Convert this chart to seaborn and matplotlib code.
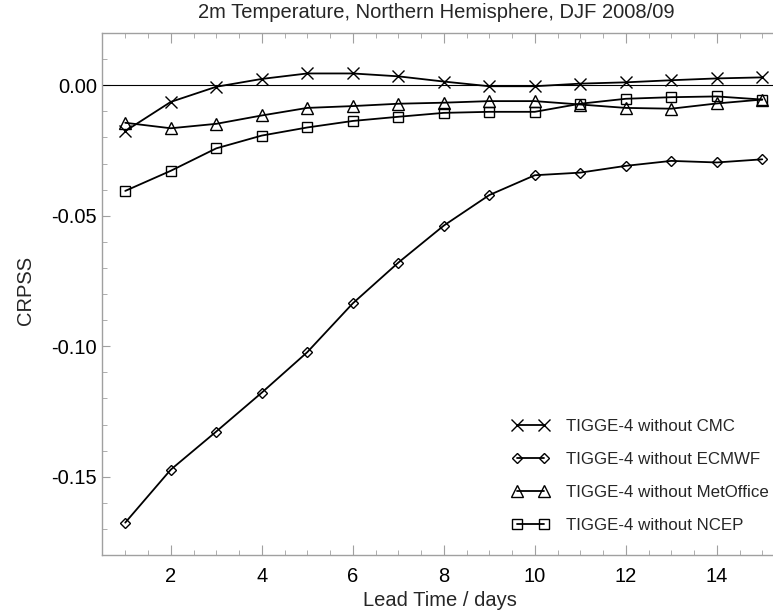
import matplotlib
matplotlib.use("Agg")
import matplotlib.pyplot as plt
from matplotlib.ticker import MultipleLocator, FormatStrFormatter
import seaborn as sns
import pandas as pd

lead_days = list(range(1, 16))
cmc = [-0.0176, -0.0064, -0.0006, 0.0024, 0.0045, 0.0045, 0.0034, 0.0014,
       -0.0004, -0.0004, 0.0006, 0.0011, 0.0019, 0.0026, 0.0030]
ecmwf = [-0.1676, -0.1473, -0.1327, -0.1178, -0.1023, -0.0836, -0.0680, -0.0538,
         -0.0421, -0.0345, -0.0335, -0.0309, -0.0290, -0.0296, -0.0284]
metoffice = [-0.0144, -0.0165, -0.0148, -0.0116, -0.0087, -0.0080, -0.0071, -0.0067,
             -0.0061, -0.0061, -0.0074, -0.0087, -0.0090, -0.0070, -0.0055]
ncep = [-0.0405, -0.0328, -0.0242, -0.0193, -0.0162, -0.0137, -0.0121, -0.0106,
        -0.0102, -0.0102, -0.0071, -0.0052, -0.0046, -0.0043, -0.0055]
series_names = ["TIGGE-4 without CMC", "TIGGE-4 without ECMWF",
                "TIGGE-4 without MetOffice", "TIGGE-4 without NCEP"]
title = "2m Temperature, Northern Hemisphere, DJF 2008/09"
xlabel = "Lead Time / days"
ylabel = "CRPSS"

sns.set_style("ticks")
plt.rcParams["font.family"] = ["Liberation Sans", "DejaVu Sans"]
plt.rcParams["axes.unicode_minus"] = False

fig = plt.figure(figsize=(7.73, 6.15), dpi=100)
ax = fig.add_axes([102.5 / 773, (615 - 555) / 615, 1 - 102.5 / 773, (555 - 33) / 615])

ax.axhline(0.0, color="black", lw=0.8, zorder=1)

markers = ["x", "D", "^", "s"]
msizes = [9, 5.5, 8, 7.5]
for name, vals, m, ms in zip(series_names, [cmc, ecmwf, metoffice, ncep], markers, msizes):
    df = pd.DataFrame({"day": lead_days, "val": vals})
    sns.lineplot(data=df, x="day", y="val", ax=ax, color="black", lw=1.3,
                 marker=m, markersize=ms, markerfacecolor="none",
                 markeredgecolor="black", markeredgewidth=1.0, label=name)

ax.set_xlim(0.5, 0.5 + (773 - 102.5) / 45.5)
ax.set_ylim(-0.18, 0.02)
ax.xaxis.set_major_locator(MultipleLocator(2))
ax.xaxis.set_minor_locator(MultipleLocator(0.5))
ax.yaxis.set_major_locator(MultipleLocator(0.05))
ax.yaxis.set_minor_locator(MultipleLocator(0.01))
ax.yaxis.set_major_formatter(FormatStrFormatter("%.2f"))

spine_col = "#a0a0a0"
for s in ["left", "top", "bottom"]:
    ax.spines[s].set_color(spine_col)
    ax.spines[s].set_linewidth(1.0)
ax.spines["right"].set_visible(False)

fs = 14.5
ax.tick_params(axis="both", which="both", direction="in", color=spine_col,
               labelsize=fs, labelcolor="black")
ax.tick_params(axis="x", which="both", top=True, bottom=True)
ax.tick_params(axis="x", which="major", length=7.5, pad=9)
ax.tick_params(axis="x", which="minor", length=3.5)
ax.tick_params(axis="y", which="major", length=6, pad=4)
ax.tick_params(axis="y", which="minor", length=3.5)
ax.tick_params(axis="y", which="both", right=False)

ax.set_xlabel("")
ax.set_ylabel("")
fig.text(440 / 773, 1 - 600 / 615, xlabel, ha="center", va="center", fontsize=fs)
fig.text(26 / 773, 1 - 290 / 615, ylabel, ha="center", va="center", fontsize=fs, rotation=90)
fig.text(436 / 773, 1 - 13 / 615, title, ha="center", va="center", fontsize=fs)

ax.legend(loc="lower right", bbox_to_anchor=(769 / 773, 1 - 533 / 615),
          bbox_transform=fig.transFigure,
          frameon=False, numpoints=2, fontsize=12.2, handlelength=2.2,
          handletextpad=1.0, labelspacing=1.07, borderaxespad=0.0, borderpad=0.0)

fig.savefig("out.png", dpi=100)
